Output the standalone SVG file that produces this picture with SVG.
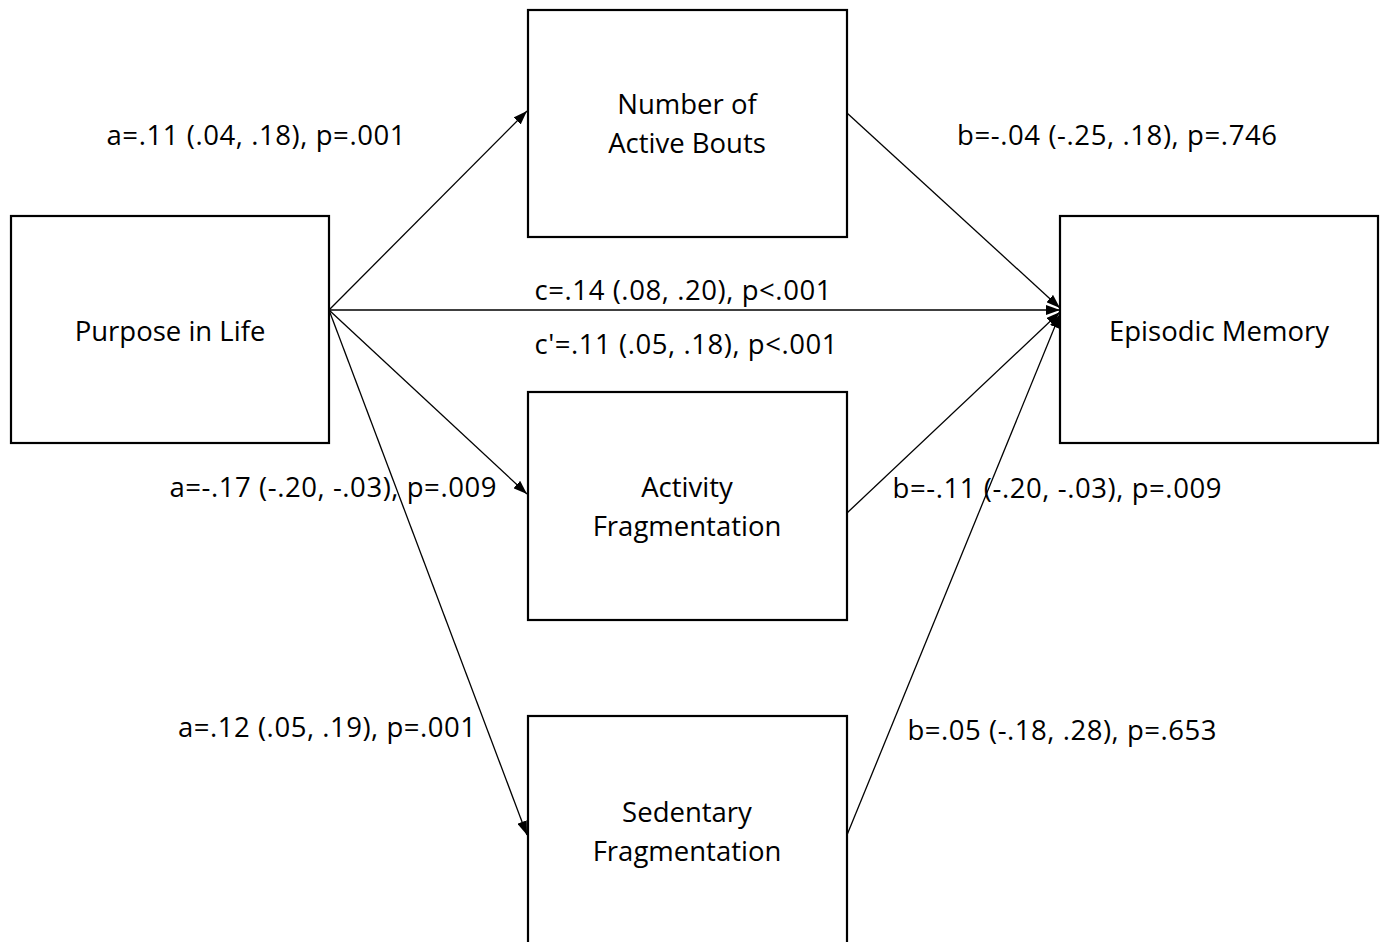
<svg xmlns="http://www.w3.org/2000/svg" width="1386" height="942" viewBox="0 0 1386 942">
<style>
.box{fill:#fff;stroke:#000;stroke-width:2.2}
.t{font-family:"Open Sans","Liberation Sans",sans-serif;font-size:27.5px;fill:#000;text-anchor:middle}
.c{stroke:#000;stroke-width:1.3;fill:none;marker-end:url(#ah)}
</style>
<defs>
<marker id="ah" viewBox="0 0 14 10" refX="14" refY="5" markerWidth="14" markerHeight="10" markerUnits="userSpaceOnUse" orient="auto">
<path d="M0,0 L14,5 L0,10 Z" fill="#000"/>
</marker>
</defs>
<rect width="1386" height="942" fill="#fff"/>
<g id="connectors">
<line class="c" x1="329" y1="310" x2="527" y2="111"/>
<line class="c" x1="329" y1="310" x2="527" y2="494"/>
<line class="c" x1="329" y1="310" x2="527" y2="835"/>
<line class="c" x1="329" y1="310" x2="1060" y2="310"/>
<line class="c" x1="847" y1="113" x2="1060" y2="308"/>
<line class="c" x1="847" y1="513" x2="1060" y2="312"/>
<line class="c" x1="847" y1="835" x2="1060" y2="314"/>
</g>
<g id="purpose">
<rect class="box" x="11" y="216" width="318" height="227"/>
<text class="t" x="170" y="341">Purpose in Life</text>
</g>
<g id="bouts">
<rect class="box" x="528" y="10" width="319" height="227"/>
<text class="t" x="687" y="114">Number of</text>
<text class="t" x="687" y="153">Active Bouts</text>
</g>
<g id="activity">
<rect class="box" x="528" y="392" width="319" height="228"/>
<text class="t" x="687" y="497">Activity</text>
<text class="t" x="687" y="536">Fragmentation</text>
</g>
<g id="sedentary">
<rect class="box" x="528" y="716" width="319" height="230"/>
<text class="t" x="687" y="822">Sedentary</text>
<text class="t" x="687" y="861">Fragmentation</text>
</g>
<g id="episodic">
<rect class="box" x="1060" y="216" width="318" height="227"/>
<text class="t" x="1219" y="341">Episodic Memory</text>
</g>
<g id="labels">
<text class="t" x="256" y="145" textLength="299">a=.11 (.04, .18), p=.001</text>
<text class="t" x="1117" y="145" textLength="320">b=-.04 (-.25, .18), p=.746</text>
<text class="t" x="683" y="300" textLength="297">c=.14 (.08, .20), p&lt;.001</text>
<text class="t" x="686" y="354" textLength="303">c'=.11 (.05, .18), p&lt;.001</text>
<text class="t" x="333" y="497" textLength="327">a=-.17 (-.20, -.03), p=.009</text>
<text class="t" x="1057" y="498" textLength="329">b=-.11 (-.20, -.03), p=.009</text>
<text class="t" x="327" y="737" textLength="298">a=.12 (.05, .19), p=.001</text>
<text class="t" x="1062" y="740" textLength="309">b=.05 (-.18, .28), p=.653</text>
</g>
</svg>
